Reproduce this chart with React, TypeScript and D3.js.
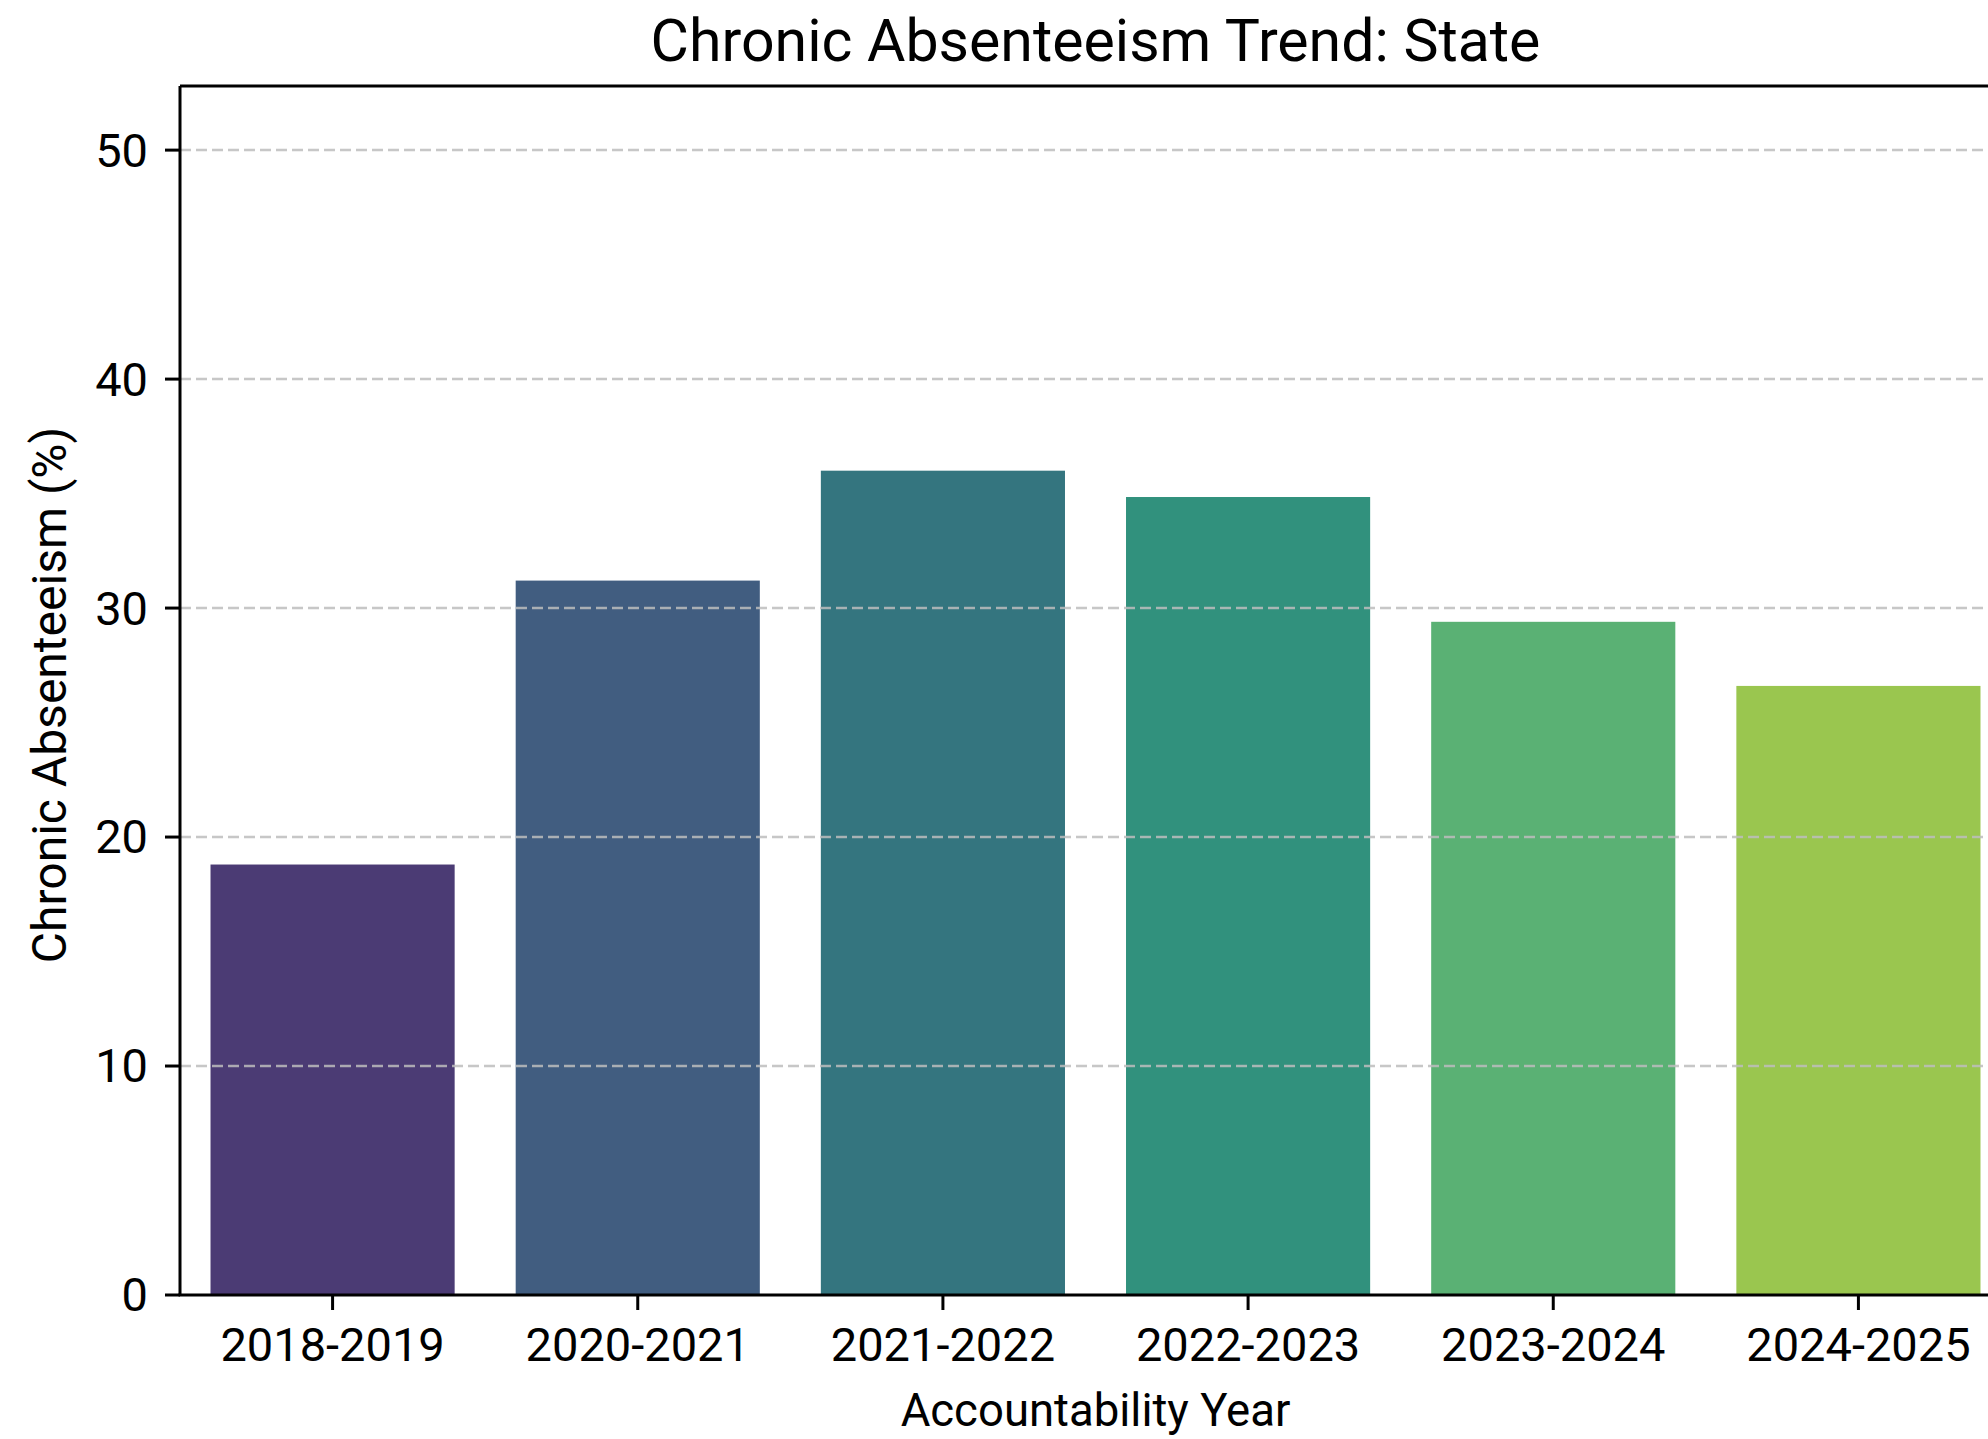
import React from "react";
import * as d3 from "d3";

const years = ["2018-2019", "2020-2021", "2021-2022", "2022-2023", "2023-2024", "2024-2025"];
const absenteeism = [18.8, 31.2, 36.0, 34.85, 29.4, 26.6];
const barColors = ["#4b3b74", "#415d80", "#34757f", "#31917d", "#5ab174", "#9ac64f"];
const yTicks = [0, 10, 20, 30, 40, 50];

const W = 1988;
const H = 1439;
const left = 180;
const right = 2011;
const top = 86;
const bottom = 1295;
const FONT = "Roboto, 'Open Sans', sans-serif";

export default function App() {
  const x = d3.scaleBand<string>().domain(years).range([left, right]).paddingInner(0.2).paddingOuter(0.1);
  const y = d3.scaleLinear().domain([0, 52.8]).range([bottom, top]);

  return (
    <svg width={W} height={H} style={{ position: "absolute", left: 0, top: 0, background: "#fff" }}>
      <rect x={0} y={0} width={W} height={H} fill="#fff" />
      {years.map((yr, i) => (
        <rect key={yr} x={x(yr)} y={y(absenteeism[i])} width={x.bandwidth()} height={bottom - y(absenteeism[i])} fill={barColors[i]} />
      ))}
      {yTicks.filter((t) => t > 0).map((t) => (
        <line key={"g" + t} x1={left} x2={right} y1={y(t)} y2={y(t)} stroke="#bdbdbd" strokeOpacity={0.85} strokeWidth={2.5} strokeDasharray="11 5" />
      ))}
      {/* spines */}
      <line x1={left} x2={left} y1={top} y2={bottom} stroke="#000" strokeWidth={3} />
      <line x1={left} x2={right} y1={top} y2={top} stroke="#000" strokeWidth={3} />
      <line x1={left - 1.5} x2={right} y1={bottom} y2={bottom} stroke="#000" strokeWidth={3} />
      <line x1={right} x2={right} y1={top} y2={bottom} stroke="#000" strokeWidth={3} />
      {/* y ticks */}
      {yTicks.map((t) => (
        <g key={"yt" + t}>
          <line x1={left - 15} x2={left} y1={y(t)} y2={y(t)} stroke="#000" strokeWidth={3} />
          <text x={left - 32} y={y(t)} dy="0.35em" textAnchor="end" fontSize={47} fontFamily={FONT} fill="#000">{t}</text>
        </g>
      ))}
      {/* x ticks */}
      {years.map((yr) => {
        const cx = (x(yr) as number) + x.bandwidth() / 2;
        return (
          <g key={"xt" + yr}>
            <line x1={cx} x2={cx} y1={bottom} y2={bottom + 15} stroke="#000" strokeWidth={3} />
            <text x={cx} y={bottom + 66} textAnchor="middle" fontSize={47} fontFamily={FONT} fill="#000">{yr}</text>
          </g>
        );
      })}
      <text x={(left + right) / 2} y={61} textAnchor="middle" fontSize={59} fontFamily={FONT} fill="#000">Chronic Absenteeism Trend: State</text>
      <text x={(left + right) / 2} y={1426} textAnchor="middle" fontSize={45.5} fontFamily={FONT} fill="#000">Accountability Year</text>
      <text transform={`translate(66, 695) rotate(-90)`} textAnchor="middle" fontSize={48} fontFamily={FONT} fill="#000">Chronic Absenteeism (%)</text>
    </svg>
  );
}
